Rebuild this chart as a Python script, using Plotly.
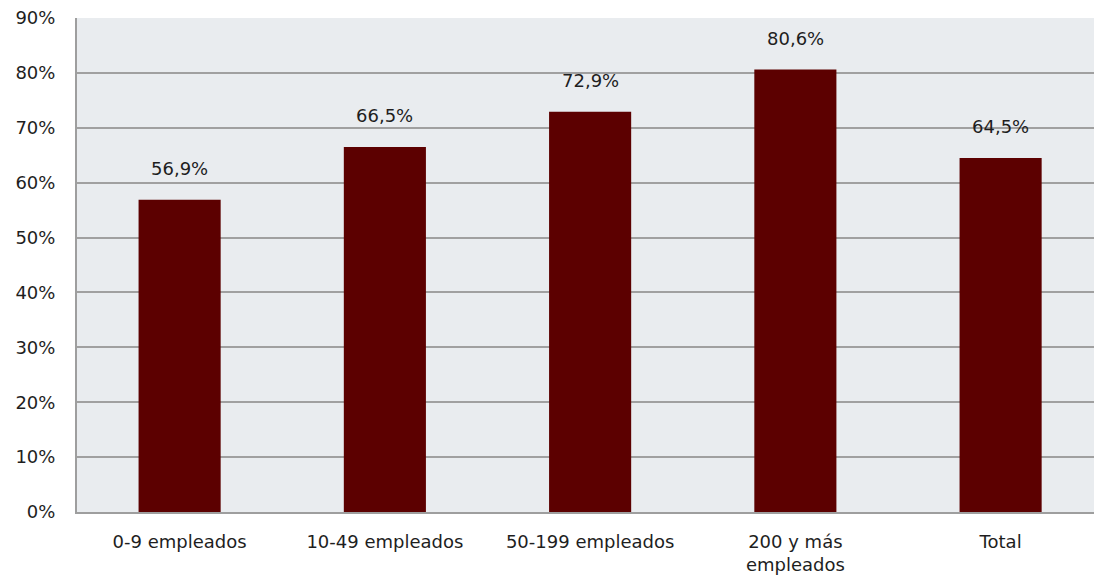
import plotly.graph_objects as go

categories = ["0-9 empleados", "10-49 empleados", "50-199 empleados", "200 y más<br>empleados", "Total"]
values = [56.9, 66.5, 72.9, 80.6, 64.5]
y_ticks = [0, 10, 20, 30, 40, 50, 60, 70, 80, 90]
y_tick_labels = [f"{t}%" for t in y_ticks]
value_labels = [f"{v:.1f}%".replace(".", ",") for v in values]

FONT = "DejaVu Sans"
TXT = "#1E1E1E"
FS = 18

fig = go.Figure()
fig.add_trace(go.Bar(
    x=list(range(len(categories))),
    y=values,
    marker=dict(color="#5C0000", line=dict(width=0)),
    width=0.4,
    hoverinfo="skip",
))

for i, (v, lab) in enumerate(zip(values, value_labels)):
    fig.add_annotation(x=i, y=v, text=lab, showarrow=False, yanchor="bottom",
                       yshift=19, font=dict(family=FONT, size=FS, color=TXT))

fig.update_layout(
    width=1094, height=579,
    margin=dict(l=77, r=0, t=18, b=67),
    paper_bgcolor="white",
    plot_bgcolor="#E9ECEF",
    showlegend=False,
    font=dict(family=FONT, size=FS, color=TXT),
    xaxis=dict(
        range=[-0.5, 4.455],
        tickvals=list(range(len(categories))),
        ticktext=categories,
        ticks="outside", ticklen=12, tickcolor="rgba(0,0,0,0)",
        showgrid=False, zeroline=False,
        showline=True, linecolor="#9E9E9E", linewidth=2,
        tickfont=dict(family=FONT, size=FS, color=TXT),
        fixedrange=True,
    ),
    yaxis=dict(
        range=[0, 90],
        tickvals=y_ticks,
        ticktext=y_tick_labels,
        ticks="outside", ticklen=16, tickcolor="rgba(0,0,0,0)",
        showgrid=True, gridcolor="#A0A0A0", gridwidth=2,
        zeroline=False,
        showline=True, linecolor="#9E9E9E", linewidth=2,
        tickfont=dict(family=FONT, size=FS, color=TXT),
        fixedrange=True,
    ),
)

fig.write_html(
    "out.html",
    config={"displayModeBar": False, "staticPlot": True},
    post_script="document.body.style.margin='0px';document.body.style.overflow='hidden';",
)
